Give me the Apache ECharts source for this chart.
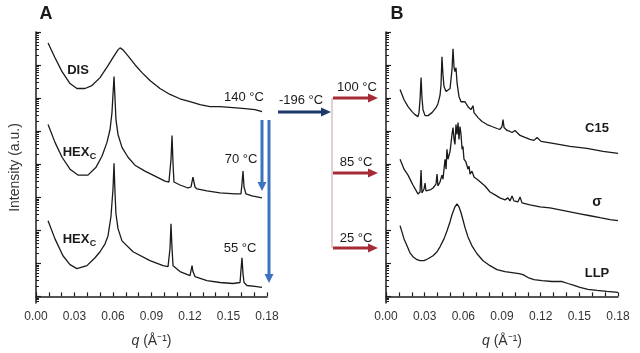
<!DOCTYPE html>
<html><head><meta charset="utf-8">
<script src="https://cdn.jsdelivr.net/npm/echarts@6/dist/echarts.min.js"></script>
<style>html,body{margin:0;padding:0;background:#fff}#c{width:640px;height:353px}</style>
</head><body><div id="c"></div>
<script>
// q (Å^-1) vs log10 intensity (a.u.), panel A
const disCurve = [[0.0094,7.67],[0.0148,7.22],[0.0203,6.80],[0.0265,6.44],[0.0319,6.29],[0.0382,6.29],[0.0436,6.38],[0.0499,6.62],[0.0561,6.98],[0.0608,7.28],[0.0639,7.46],[0.0655,7.52],[0.0678,7.46],[0.0717,7.28],[0.0771,7.01],[0.0826,6.77],[0.0888,6.53],[0.0966,6.29],[0.1044,6.11],[0.1122,5.98],[0.1200,5.89],[0.1278,5.80],[0.1356,5.74],[0.1434,5.74],[0.1535,5.71],[0.1629,5.68],[0.1706,5.65],[0.1761,5.59]];
const hex70Curve = [[0.0094,5.20],[0.0148,4.66],[0.0203,4.21],[0.0265,3.85],[0.0327,3.67],[0.0405,3.67],[0.0468,3.91],[0.0514,4.24],[0.0553,4.66],[0.0577,5.05],[0.0592,5.56],[0.0600,6.11],[0.0608,6.65],[0.0616,5.95],[0.0623,5.35],[0.0639,4.90],[0.0670,4.51],[0.0717,4.21],[0.0771,3.97],[0.0849,3.79],[0.0943,3.61],[0.1005,3.49],[0.1036,3.46],[0.1052,4.15],[0.1060,4.87],[0.1068,4.00],[0.1075,3.46],[0.1122,3.37],[0.1184,3.28],[0.1208,3.31],[0.1223,3.61],[0.1239,3.31],[0.1255,3.25],[0.1332,3.19],[0.1434,3.13],[0.1551,3.10],[0.1597,3.10],[0.1605,3.40],[0.1613,3.79],[0.1621,3.31],[0.1636,3.10],[0.1683,3.04],[0.1761,2.98]];
const hex55Curve = [[0.0094,2.29],[0.0148,1.74],[0.0210,1.23],[0.0265,0.96],[0.0319,0.84],[0.0397,0.93],[0.0460,1.17],[0.0499,1.35],[0.0538,1.59],[0.0561,1.83],[0.0584,2.41],[0.0600,3.25],[0.0608,4.03],[0.0616,3.10],[0.0623,2.50],[0.0639,2.05],[0.0670,1.68],[0.0756,1.35],[0.0888,1.08],[0.0990,0.93],[0.1029,0.90],[0.1044,1.44],[0.1052,2.20],[0.1060,1.44],[0.1068,0.93],[0.1122,0.75],[0.1200,0.63],[0.1208,0.78],[0.1216,0.93],[0.1223,0.75],[0.1239,0.60],[0.1332,0.48],[0.1434,0.42],[0.1535,0.39],[0.1590,0.42],[0.1597,0.78],[0.1605,1.17],[0.1613,0.69],[0.1621,0.42],[0.1644,0.33],[0.1706,0.30],[0.1761,0.27]];
// panel B
const c15Curve = [[0.0109,6.26],[0.0140,5.95],[0.0171,5.74],[0.0202,5.59],[0.0225,5.50],[0.0248,5.44],[0.0256,5.56],[0.0264,5.95],[0.0272,6.62],[0.0279,6.02],[0.0287,5.65],[0.0303,5.47],[0.0326,5.47],[0.0357,5.56],[0.0388,5.71],[0.0403,5.83],[0.0419,6.08],[0.0427,6.41],[0.0434,7.25],[0.0442,6.71],[0.0450,6.35],[0.0466,6.20],[0.0481,6.20],[0.0497,6.29],[0.0512,6.86],[0.0520,7.49],[0.0528,6.92],[0.0535,6.80],[0.0543,6.92],[0.0551,6.47],[0.0566,6.05],[0.0582,5.89],[0.0597,5.86],[0.0613,5.89],[0.0621,5.95],[0.0628,5.83],[0.0636,5.74],[0.0659,5.65],[0.0667,5.71],[0.0675,5.77],[0.0683,5.56],[0.0714,5.41],[0.0745,5.29],[0.0784,5.20],[0.0822,5.14],[0.0861,5.08],[0.0884,5.05],[0.0900,5.14],[0.0908,5.35],[0.0916,5.11],[0.0939,5.02],[0.0962,4.99],[0.0978,4.96],[0.1001,5.02],[0.1016,4.99],[0.1040,4.87],[0.1078,4.81],[0.1117,4.75],[0.1148,4.72],[0.1172,4.81],[0.1179,4.87],[0.1187,4.78],[0.1203,4.69],[0.1296,4.63],[0.1428,4.54],[0.1559,4.48],[0.1684,4.39],[0.1800,4.33]];
const sigmaCurve = [[0.0109,4.15],[0.0140,3.85],[0.0171,3.67],[0.0209,3.37],[0.0248,3.10],[0.0264,3.16],[0.0272,3.82],[0.0279,3.13],[0.0295,3.25],[0.0303,3.43],[0.0310,3.19],[0.0341,3.22],[0.0365,3.28],[0.0388,3.40],[0.0396,3.70],[0.0403,3.34],[0.0419,3.46],[0.0434,3.67],[0.0442,3.55],[0.0458,4.15],[0.0466,3.85],[0.0473,4.45],[0.0481,4.15],[0.0497,4.39],[0.0512,4.90],[0.0520,5.11],[0.0528,4.75],[0.0535,4.60],[0.0543,5.20],[0.0551,4.90],[0.0559,5.26],[0.0566,4.75],[0.0574,5.14],[0.0582,4.90],[0.0590,4.45],[0.0597,4.54],[0.0605,4.15],[0.0621,4.06],[0.0636,3.85],[0.0644,3.94],[0.0652,3.70],[0.0667,3.79],[0.0683,3.61],[0.0698,3.67],[0.0714,3.52],[0.0729,3.46],[0.0768,3.34],[0.0807,3.16],[0.0846,3.07],[0.0884,2.98],[0.0923,2.92],[0.0946,2.98],[0.0962,2.89],[0.0978,3.04],[0.0993,2.89],[0.1024,2.86],[0.1040,3.01],[0.1055,2.83],[0.1086,2.80],[0.1117,2.77],[0.1195,2.71],[0.1272,2.68],[0.1350,2.62],[0.1428,2.56],[0.1505,2.50],[0.1583,2.44],[0.1660,2.38],[0.1738,2.32],[0.1800,2.29]];
const llpCurve = [[0.0109,2.14],[0.0140,1.74],[0.0163,1.53],[0.0186,1.32],[0.0209,1.20],[0.0241,1.11],[0.0264,1.08],[0.0295,1.08],[0.0326,1.14],[0.0365,1.23],[0.0396,1.35],[0.0419,1.50],[0.0450,1.74],[0.0473,1.98],[0.0497,2.26],[0.0512,2.47],[0.0535,2.71],[0.0551,2.80],[0.0566,2.71],[0.0582,2.53],[0.0597,2.32],[0.0613,2.08],[0.0636,1.80],[0.0667,1.53],[0.0706,1.29],[0.0753,1.08],[0.0807,0.93],[0.0861,0.81],[0.0923,0.75],[0.0978,0.72],[0.1032,0.69],[0.1063,0.66],[0.1102,0.57],[0.1148,0.51],[0.1210,0.48],[0.1288,0.45],[0.1366,0.45],[0.1412,0.39],[0.1459,0.33],[0.1505,0.27],[0.1567,0.21],[0.1637,0.18],[0.1715,0.15],[0.1800,0.12]];
const qLabels = [0, 0.03, 0.06, 0.09, 0.12, 0.15, 0.18];
const decades = [0,1,2,3,4,5,6,7,8];

const minorY = [];
for (let n = -1; n < 8; n++) for (let k = 2; k <= 9; k++) { const v = n + Math.log10(k); if (v > -0.2 && v < 8) minorY.push(v); }

const AX = '#1e1e1e', TXT = '#333';
function xAx(g) {
  return { gridIndex: g, type: 'value', min: 0, max: 0.18, interval: 0.01,
    axisLine: { lineStyle: { color: AX, width: 1.5 } },
    axisTick: { inside: true, length: 4, lineStyle: { color: AX, width: 1.2 } },
    axisLabel: { margin: 8, color: TXT, fontSize: 12, fontFamily: 'Liberation Sans',
      formatter: v => qLabels.some(l => Math.abs(l - v) < 1e-6) ? v.toFixed(2) : '' },
    splitLine: { show: false },
    name: '{i|q} (Å⁻¹)', nameLocation: 'middle', nameGap: 31,
    nameTextStyle: { color: TXT, fontSize: 14, fontFamily: 'Liberation Sans', rich: { i: { fontStyle: 'italic', fontSize: 14, color: TXT, fontFamily: 'Liberation Sans' } } } };
}
function yMajor(g, named) {
  const o = { gridIndex: g, type: 'value', position: 'left', min: -0.2, max: 8,
    axisLine: { show: true, lineStyle: { color: AX, width: 1.5 } },
    axisTick: { show: true, inside: true, length: 5, customValues: decades, lineStyle: { color: AX, width: 1.2 } },
    axisLabel: { show: false }, splitLine: { show: false } };
  if (named) Object.assign(o, { name: 'Intensity (a.u.)', nameLocation: 'middle', nameGap: 14,
    nameTextStyle: { color: TXT, fontSize: 14, fontFamily: 'Liberation Sans' } });
  return o;
}
function yMinor(g) {
  return { gridIndex: g, type: 'value', position: 'left', offset: 0, min: -0.2, max: 8,
    axisLine: { show: false },
    axisTick: { show: true, inside: true, length: 3, customValues: minorY, lineStyle: { color: AX, width: 1 } },
    axisLabel: { show: false }, splitLine: { show: false } };
}
function line(data, xi, yi) {
  return { type: 'line', data, xAxisIndex: xi, yAxisIndex: yi, symbol: 'none', silent: true,
    lineStyle: { color: '#1a1a1a', width: 1.3 } };
}
function txt(x, y, s, size, bold, extra) {
  return Object.assign({ type: 'text', x, y, style: { text: s, fill: '#1a1a1a', fontSize: size, fontWeight: bold ? 'bold' : 'normal', fontFamily: 'Liberation Sans', align: 'center', verticalAlign: 'middle' } }, extra || {});
}
const BLUE = '#3d72c0', NAVY = '#1d3a6c', RED = '#a52c36';
function arrowV(x, y1, y2, c) {
  return [{ type: 'line', shape: { x1: x, y1: y1, x2: x, y2: y2 - 7 }, style: { stroke: c, lineWidth: 3 } },
          { type: 'polygon', shape: { points: [[x - 4.5, y2 - 9], [x + 4.5, y2 - 9], [x, y2]] }, style: { fill: c } }];
}
function arrowH(x1, x2, y, c) {
  return [{ type: 'line', shape: { x1: x1, y1: y, x2: x2 - 7, y2: y }, style: { stroke: c, lineWidth: 3 } },
          { type: 'polygon', shape: { points: [[x2 - 10, y - 4.5], [x2 - 10, y + 4.5], [x2, y]] }, style: { fill: c } }];
}

const chart = echarts.init(document.getElementById('c'), null, { renderer: 'canvas' });
chart.setOption({
  animation: false,
  backgroundColor: '#fff',
  grid: [{ left: 36, top: 32, width: 231, height: 273 }, { left: 386, top: 32, width: 232, height: 273 }],
  xAxis: [xAx(0), xAx(1)],
  yAxis: [yMajor(0, true), yMinor(0), yMajor(1, false), yMinor(1)],
  series: [line(disCurve, 0, 0), line(hex70Curve, 0, 0), line(hex55Curve, 0, 0),
           line(c15Curve, 1, 2), line(sigmaCurve, 1, 2), line(llpCurve, 1, 2)],
  graphic: [
    txt(46, 14, 'A', 18, true), txt(397, 14, 'B', 18, true),
    txt(78, 70, 'DIS', 13, true),
    txt(76, 152, 'HEX', 13, true), txt(93, 157, 'C', 9, true),
    txt(76, 239, 'HEX', 13, true), txt(93, 244, 'C', 9, true),
    txt(244, 97, '140 °C', 13, false), txt(241, 159, '70 °C', 13, false), txt(240, 248, '55 °C', 13, false),
    txt(301, 100, '-196 °C', 13, false),
    txt(357, 87, '100 °C', 13, false), txt(356, 162, '85 °C', 13, false), txt(356, 238, '25 °C', 13, false),
    txt(597, 128, 'C15', 13, true), txt(597, 202, 'σ', 14, true), txt(597, 273, 'LLP', 13, true),
    { type: 'line', shape: { x1: 332, y1: 98, x2: 332, y2: 248 }, style: { stroke: '#c6a2a4', lineWidth: 1 } },
    ...arrowV(262, 120, 191, BLUE), ...arrowV(269, 120, 283, BLUE),
    ...arrowH(278, 331, 112, NAVY),
    ...arrowH(333, 378, 98, RED), ...arrowH(333, 378, 173, RED), ...arrowH(333, 378, 248, RED)
  ]
});
</script></body></html>
